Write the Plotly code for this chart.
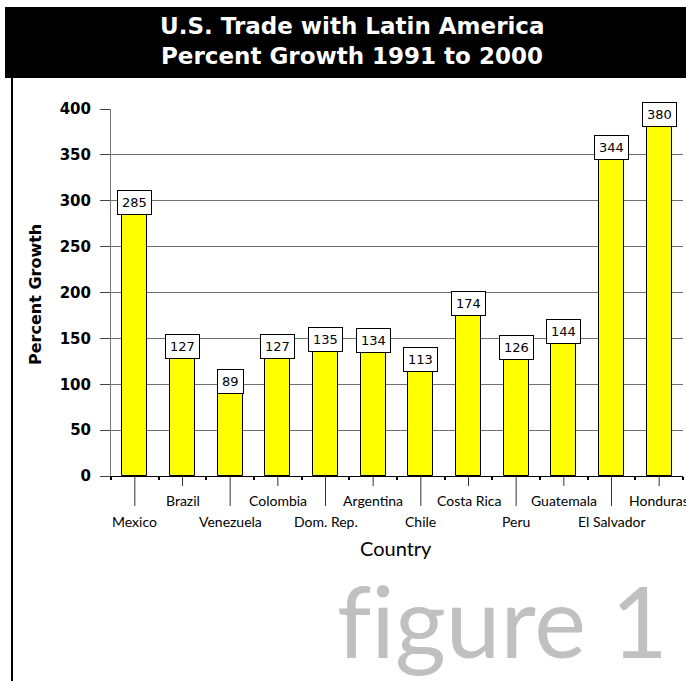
import plotly.graph_objects as go

countries = ["Mexico", "Brazil", "Venezuela", "Colombia", "Dom. Rep.", "Argentina",
             "Chile", "Costa Rica", "Peru", "Guatemala", "El Salvador", "Honduras"]
growth = [285, 127, 89, 127, 135, 134, 113, 174, 126, 144, 344, 380]
y_ticks = [0, 50, 100, 150, 200, 250, 300, 350, 400]

W, H = 686, 681
L, R, T, B = 111, 3, 109, 205
PW = W - L - R
PH = H - T - B


def px2x(px):
    return (px - L) / PW


def px2y(py):
    return (H - B - py) / PH


FONT = "Lato"
BOLD = "DejaVu Sans"

fig = go.Figure()
fig.add_trace(go.Bar(
    x=countries, y=growth, width=0.525,
    marker=dict(color="#FFFF00", line=dict(color="black", width=1)),
    hoverinfo="skip",
))

annotations = []
shapes = []

# data labels
for c, v in zip(countries, growth):
    annotations.append(dict(
        x=c, y=v, xref="x", yref="y", text=str(v), showarrow=False,
        yanchor="bottom", xanchor="center",
        font=dict(family="DejaVu Sans", size=13, color="black"),
        bgcolor="white", bordercolor="black", borderwidth=1, borderpad=4,
    ))

# staggered category labels and long ticks
for i, c in enumerate(countries):
    lower = (i % 2 == 0)
    shapes.append(dict(type="line", xref="x", yref="paper", x0=c, x1=c,
                       y0=0, y1=px2y(506 if lower else 486),
                       line=dict(color="#333", width=1)))
    annotations.append(dict(
        x=c, y=px2y(521 if lower else 500), xref="x", yref="paper", text=c,
        showarrow=False, xanchor="center", yanchor="middle",
        font=dict(family=FONT, size=14, color="black"),
    ))

# axis titles
annotations.append(dict(x=px2x(396), y=px2y(548), xref="paper", yref="paper",
                        text="Country", showarrow=False, xanchor="center", yanchor="middle",
                        font=dict(family=FONT, size=20, color="black")))
annotations.append(dict(x=px2x(35), y=px2y(295), xref="paper", yref="paper",
                        text="<b>Percent Growth</b>", showarrow=False, textangle=-90,
                        xanchor="center", yanchor="middle",
                        font=dict(family=BOLD, size=16, color="black")))

# title bar
shapes.append(dict(type="rect", xref="paper", yref="paper", layer="below",
                   x0=px2x(5), x1=px2x(690), y0=px2y(78), y1=px2y(7),
                   fillcolor="black", line=dict(width=0)))
annotations.append(dict(x=px2x(352), y=px2y(26), xref="paper", yref="paper",
                        text="<b>U.S. Trade with Latin America</b>", showarrow=False,
                        xanchor="center", yanchor="middle",
                        font=dict(family=BOLD, size=23, color="white")))
annotations.append(dict(x=px2x(352), y=px2y(56), xref="paper", yref="paper",
                        text="<b>Percent Growth 1991 to 2000</b>", showarrow=False,
                        xanchor="center", yanchor="middle",
                        font=dict(family=BOLD, size=23, color="white")))

# left border line
shapes.append(dict(type="line", xref="paper", yref="paper",
                   x0=px2x(12), x1=px2x(12), y0=px2y(78), y1=px2y(690),
                   line=dict(color="black", width=2)))

# watermark
annotations.append(dict(x=px2x(670), y=px2y(620), xref="paper", yref="paper",
                        text="f\u200cigure 1", showarrow=False, xanchor="right", yanchor="middle",
                        font=dict(family=FONT, size=98, color="#C0C0C0")))

fig.update_layout(
    width=W, height=H,
    margin=dict(l=L, r=R, t=T, b=B, pad=0),
    paper_bgcolor="white", plot_bgcolor="white",
    showlegend=False,
    bargap=0,
    annotations=annotations,
    shapes=shapes,
    xaxis=dict(
        type="category", range=[-0.5, len(countries) - 0.5],
        showticklabels=False, showgrid=False,
        ticks="outside", tickson="boundaries", ticklen=3, tickcolor="black", tickwidth=2,
        showline=True, linecolor="black", linewidth=1, zeroline=False,
        fixedrange=True,
    ),
    yaxis=dict(
        range=[0, 400], tickvals=y_ticks, ticktext=[str(t) for t in y_ticks],
        showgrid=True, gridcolor="#6E6E6E", gridwidth=1,
        ticks="outside", ticklen=10, tickcolor="#444", tickwidth=1,
        ticklabelstandoff=6,
        tickfont=dict(family=BOLD, size=15, color="black", weight="bold"),
        showline=True, linecolor="#777", linewidth=1, zeroline=False,
        fixedrange=True,
    ),
)

fig.write_html("out.html")
